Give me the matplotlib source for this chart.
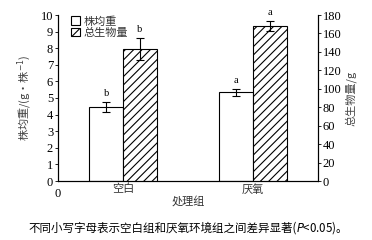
import matplotlib
matplotlib.use("Agg")
import matplotlib.pyplot as plt
import numpy as np

plt.rcParams['font.family'] = ['Liberation Serif', 'Noto Sans CJK SC', 'DejaVu Sans']
plt.rcParams['hatch.linewidth'] = 0.8

categories = ['空白', '厌氧']
weight = [4.45, 5.35]
weight_err = [0.3, 0.2]
weight_sig = ['b', 'a']
biomass = [143, 168]
biomass_err = [12, 5]
biomass_sig = ['b', 'a']

fig = plt.figure(figsize=(3.72, 2.40), dpi=100)
ax = fig.add_axes([58/372, 1 - 181/240, 260/372, 166/240])
ax2 = ax.twinx()

x = np.array([0.5, 1.5])
w = 0.26
ax.bar(x - w/2, weight, w, yerr=weight_err, color='white', edgecolor='black',
       linewidth=0.8, error_kw=dict(capsize=3, elinewidth=0.8, capthick=0.8), label='株均重', zorder=2)
ax2.bar(x + w/2, biomass, w, yerr=biomass_err, color='white', edgecolor='black', hatch='////',
        linewidth=0.8, error_kw=dict(capsize=3, elinewidth=0.8, capthick=0.8), label='总生物量', zorder=2)

for xi, v, e, s in zip(x - w/2, weight, weight_err, weight_sig):
    ax.text(xi, v + e + 0.25, s, ha='center', va='bottom', fontsize=7.5)
for xi, v, e, s in zip(x + w/2, biomass, biomass_err, biomass_sig):
    ax2.text(xi, v + e + 4.5, s, ha='center', va='bottom', fontsize=7.5)

ax.set_xlim(0, 2)
ax.set_ylim(0, 10)
ax2.set_ylim(0, 180)
ax.set_yticks(np.arange(0, 11, 1))
ax2.set_yticks(np.arange(0, 181, 20))
ax.set_xticks(x)
ax.set_xticklabels(categories, family=['Noto Sans CJK SC'], fontsize=8, color='#333333')
ax.tick_params(axis='x', length=0, pad=2)
ax.tick_params(axis='y', labelsize=9, length=2.5, width=0.6, pad=1)
ax2.tick_params(axis='y', labelsize=9, length=2.5, width=0.6, pad=1)
for a in (ax, ax2):
    a.spines['top'].set_visible(False)
    for sp in ('left', 'right', 'bottom'):
        a.spines[sp].set_linewidth(0.8)
ax.text(0, -0.45, '0', ha='center', va='top', fontsize=9)

ax.set_xlabel('处理组', family=['Noto Sans CJK SC'], fontsize=8, color='#333333', labelpad=1)
ax.set_ylabel('株均重/(g·株$^{-1}$)', family=['Noto Sans CJK SC', 'DejaVu Sans'], fontsize=8, color='#444444', labelpad=5)
ax2.set_ylabel('总生物量/g', family=['Noto Sans CJK SC'], fontsize=8, color='#444444', labelpad=2)

h1, l1 = ax.get_legend_handles_labels()
h2, l2 = ax2.get_legend_handles_labels()
leg = ax.legend(h1 + h2, l1 + l2, loc='upper left', bbox_to_anchor=(0.02, 1.04), frameon=False,
                prop={'family': 'Noto Sans CJK SC', 'size': 8}, handlelength=0.8, handleheight=0.8,
                handletextpad=0.3, labelspacing=0.1, borderpad=0.2)
for t in leg.get_texts():
    t.set_color('#333333')

t = fig.text(28/372, 1 - 228/240, '不同小写字母表示空白组和厌氧环境组之间差异显著(', fontsize=8.3,
             family=['Noto Sans CJK SC'], va='center', ha='left')
fig.canvas.draw()
bb = t.get_window_extent()
fig.text(bb.x1 / 372, 1 - 228/240, '$P$<0.05)。', fontsize=8.3,
         family=['Noto Sans CJK SC', 'DejaVu Sans'], va='center', ha='left')

fig.savefig('out.png', dpi=100)
